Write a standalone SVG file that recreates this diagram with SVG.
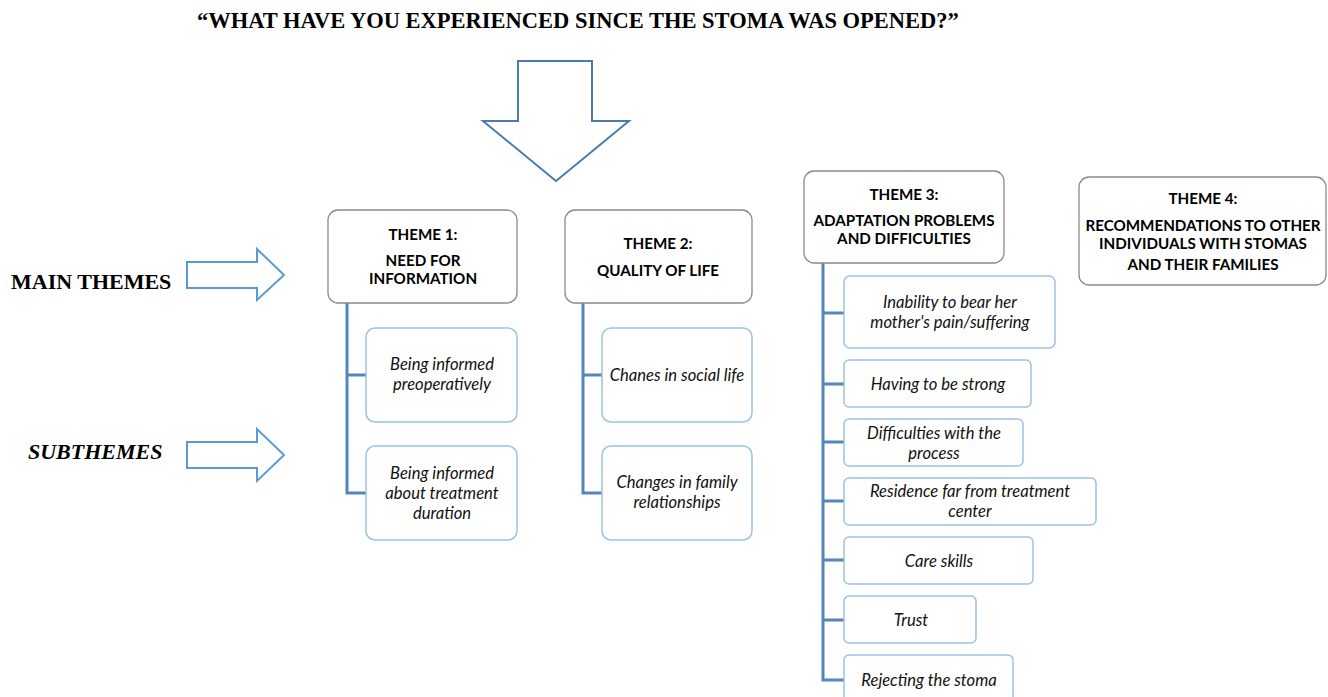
<svg xmlns="http://www.w3.org/2000/svg" width="1328" height="697" viewBox="0 0 1328 697">
<style>
.bg{fill:#ffffff}
.title{font-family:"Liberation Serif",serif;font-weight:bold;font-size:22.5px;fill:#000}
.side{font-family:"Liberation Serif",serif;font-weight:bold;font-size:22px;fill:#000}
.sideit{font-family:"Liberation Serif",serif;font-weight:bold;font-style:italic;font-size:22px;fill:#000}
.theme rect{fill:#fff;stroke:#8a8a8a;stroke-width:1.3}
.theme text{font-family:Lato,"Noto Sans",sans-serif;font-weight:bold;font-size:15.2px;fill:#000;text-anchor:middle}
.sub rect{fill:#fff;stroke:#9cc2e5;stroke-width:1.5}
.sub text{font-family:Lato,"Noto Sans",sans-serif;font-style:italic;font-size:16.6px;fill:#111;text-anchor:middle}
.conn{fill:none;stroke:#5585bb;stroke-width:3}
.bigarrow{fill:#fff;stroke:#4a7ab0;stroke-width:2}
.sarrow{fill:#fff;stroke:#5b9bd5;stroke-width:2}
</style>
<rect class="bg" x="0" y="0" width="1328" height="697"/>
<text class="title" x="197" y="28">“WHAT HAVE YOU EXPERIENCED SINCE THE STOMA WAS OPENED?”</text>
<g id="down-arrow"><polygon class="bigarrow" points="518,61 592,61 592,121 629,121 556,181 483,121 518,121"/></g>
<g id="main-themes-label">
<text class="side" x="11" y="289">MAIN THEMES</text>
<polygon class="sarrow" points="187,262 257,262 257,249 284,275 257,300 257,288 187,288"/>
</g>
<g id="subthemes-label">
<text class="sideit" x="28" y="459">SUBTHEMES</text>
<polygon class="sarrow" points="187,442 257,442 257,429 284,455 257,481 257,468 187,468"/>
</g>
<g id="connectors">
<path class="conn" d="M347,303 V493 H366 M347,375 H366"/>
<path class="conn" d="M583,303 V493 H602 M583,375 H602"/>
<path class="conn" d="M823,263 V680 H844 M823,313 H844 M823,384 H844 M823,442 H844 M823,501 H844 M823,560 H844 M823,620 H844"/>
</g>
<g id="theme1" class="theme">
<rect x="328" y="210" width="189" height="93" rx="10"/>
<text x="423" y="240">THEME 1:</text>
<text x="423" y="266">NEED FOR</text>
<text x="423" y="284">INFORMATION</text>
</g>
<g id="theme2" class="theme">
<rect x="565" y="210" width="187" height="93" rx="10"/>
<text x="658" y="249">THEME 2:</text>
<text x="658" y="276">QUALITY OF LIFE</text>
</g>
<g id="theme3" class="theme">
<rect x="804" y="171" width="200" height="92" rx="10"/>
<text x="904" y="200">THEME 3:</text>
<text x="904" y="226">ADAPTATION PROBLEMS</text>
<text x="904" y="244">AND DIFFICULTIES</text>
</g>
<g id="theme4" class="theme">
<rect x="1079" y="177" width="247" height="108" rx="10"/>
<text x="1203" y="204">THEME 4:</text>
<text x="1203" y="231">RECOMMENDATIONS TO OTHER</text>
<text x="1203" y="249">INDIVIDUALS WITH STOMAS</text>
<text x="1203" y="270">AND THEIR FAMILIES</text>
</g>
<g id="sub1a" class="sub">
<rect x="366" y="328" width="151" height="94" rx="9"/>
<text x="442" y="370">Being informed</text>
<text x="442" y="390">preoperatively</text>
</g>
<g id="sub1b" class="sub">
<rect x="366" y="446" width="151" height="94" rx="9"/>
<text x="442" y="479">Being informed</text>
<text x="442" y="499">about treatment</text>
<text x="442" y="519">duration</text>
</g>
<g id="sub2a" class="sub">
<rect x="602" y="328" width="150" height="94" rx="9"/>
<text x="677" y="381">Chanes in social life</text>
</g>
<g id="sub2b" class="sub">
<rect x="602" y="446" width="150" height="94" rx="9"/>
<text x="677" y="488">Changes in family</text>
<text x="677" y="508">relationships</text>
</g>
<g id="sub3a" class="sub">
<rect x="844" y="276" width="211" height="72" rx="6"/>
<text x="950" y="308">Inability to bear her</text>
<text x="950" y="328">mother's pain/suffering</text>
</g>
<g id="sub3b" class="sub">
<rect x="844" y="360" width="187" height="47" rx="5"/>
<text x="938" y="390">Having to be strong</text>
</g>
<g id="sub3c" class="sub">
<rect x="844" y="419" width="179" height="47" rx="5"/>
<text x="934" y="439">Difficulties with the</text>
<text x="934" y="459">process</text>
</g>
<g id="sub3d" class="sub">
<rect x="844" y="478" width="252" height="47" rx="5"/>
<text x="970" y="497">Residence far from treatment</text>
<text x="970" y="517">center</text>
</g>
<g id="sub3e" class="sub">
<rect x="844" y="537" width="189" height="47" rx="5"/>
<text x="939" y="567">Care skills</text>
</g>
<g id="sub3f" class="sub">
<rect x="844" y="596" width="132" height="47" rx="5"/>
<text x="911" y="626">Trust</text>
</g>
<g id="sub3g" class="sub">
<rect x="844" y="655" width="169" height="47" rx="5"/>
<text x="929" y="686">Rejecting the stoma</text>
</g>
</svg>
